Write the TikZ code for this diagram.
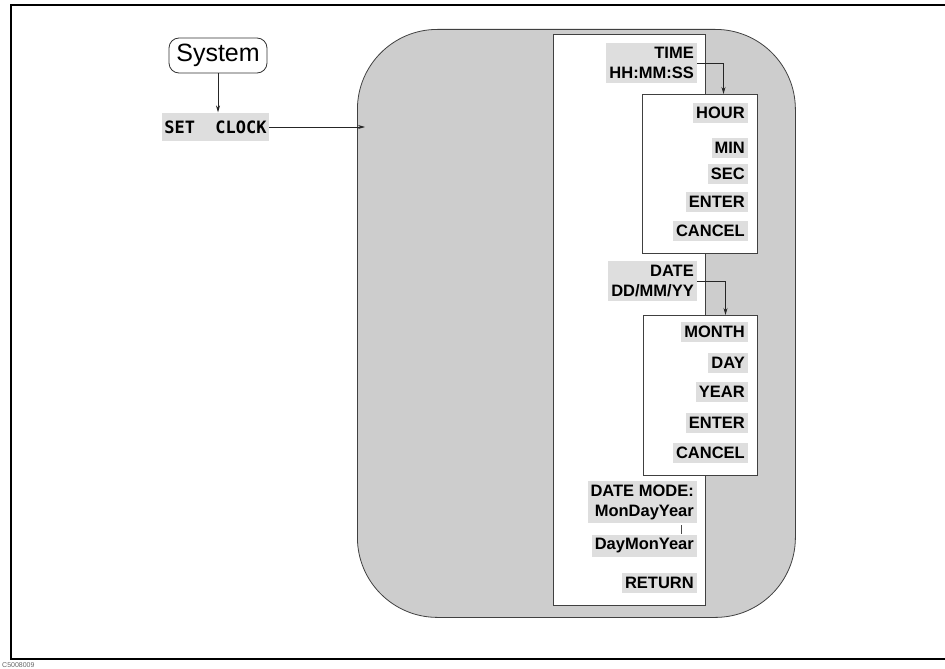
\documentclass[tikz,border=0pt]{standalone}
\usepackage{fontspec}
\setmainfont{Liberation Sans}
\newfontfamily\monofnt{DejaVu Sans Mono}
\usetikzlibrary{arrows.meta,positioning}
\definecolor{shade}{HTML}{CDCDCD}
\definecolor{hilite}{HTML}{DEDEDE}
\tikzset{
  arr/.style={draw=black!85, line width=0.8pt, -{Stealth[length=7pt,width=4pt]}},
  panel/.style={draw=black!75, line width=1pt, fill=white, anchor=north west, inner sep=0pt},
  lbl/.style={fill=hilite, inner xsep=3pt, inner ysep=4pt, align=right, anchor=east,
    font=\fontsize{16.5}{20}\selectfont\bfseries},
}
\begin{document}
\begin{tikzpicture}[x=1pt,y=-1pt]
\useasboundingbox (0,0) rectangle (945,669);
% outer frame
\draw[line width=1.7pt] (947,5) -- (11,5) -- (11,659) -- (947,659);
\node[anchor=west, text=black!60, font=\fontsize{7}{8}\selectfont, inner sep=0pt] (code) at (2,665) {C5008009};
% big rounded menu area
\node[draw=black!75, line width=0.8pt, fill=shade, rounded corners=80pt,
  minimum width=438pt, minimum height=588pt, inner sep=0pt, anchor=north west] (area) at (357,29) {};
% main panel
\node[panel, minimum width=152pt, minimum height=571pt] (main) at (553,34) {};
% sub panels
\node[panel, minimum width=115pt, minimum height=159pt] (sub1) at (642,94) {};
\node[panel, minimum width=114pt, minimum height=160pt] (sub2) at (643,315) {};
% System key
\node[draw=black!80, line width=0.8pt, rounded corners=10pt, minimum width=98pt, minimum height=35pt,
  inner sep=0pt, font=\fontsize{25}{30}\selectfont] (system) at (218,55.5) {System};
\node[fill=hilite, inner xsep=2pt, inner ysep=8pt, font=\monofnt\fontsize{17}{20}\selectfont\bfseries]
  (setclock) at (215.5,127) {SET\ \ CLOCK};
\coordinate (areain) at (365,127);
\draw[arr] (system.south) -- (system.south |- setclock.north);
\draw[arr] (setclock.east) -- (areain);
% main panel labels
\node[lbl] (time) at (697,63) {TIME\\HH:MM:SS};
\node[lbl] (date) at (697,281) {DATE\\DD/MM/YY};
\node[lbl] (mode) at (697,502) {DATE MODE:\\MonDayYear};
\node[lbl] (daymon) at (697,546) {DayMonYear};
\node[lbl] (ret) at (697,583) {RETURN};
% sub1 labels
\node[lbl] (hour) at (748,113) {HOUR};
\node[lbl] (min) at (748,148) {MIN};
\node[lbl] (sec) at (748,174) {SEC};
\node[lbl] (enter1) at (748,202) {ENTER};
\node[lbl] (cancel1) at (748,231) {CANCEL};
% sub2 labels
\node[lbl] (month) at (748,332) {MONTH};
\node[lbl] (day) at (748,363) {DAY};
\node[lbl] (year) at (748,392) {YEAR};
\node[lbl] (enter2) at (748,423) {ENTER};
\node[lbl] (cancel2) at (748,453) {CANCEL};
% connectors
\draw[arr] (time.east) -| ([xshift=23.5pt]sub1.north);
\draw[arr] (date.east) -| ([xshift=25pt]sub2.north);
\draw[draw=black!70, line width=0.6pt] (681,525) -- (681,534);
\end{tikzpicture}
\end{document}
